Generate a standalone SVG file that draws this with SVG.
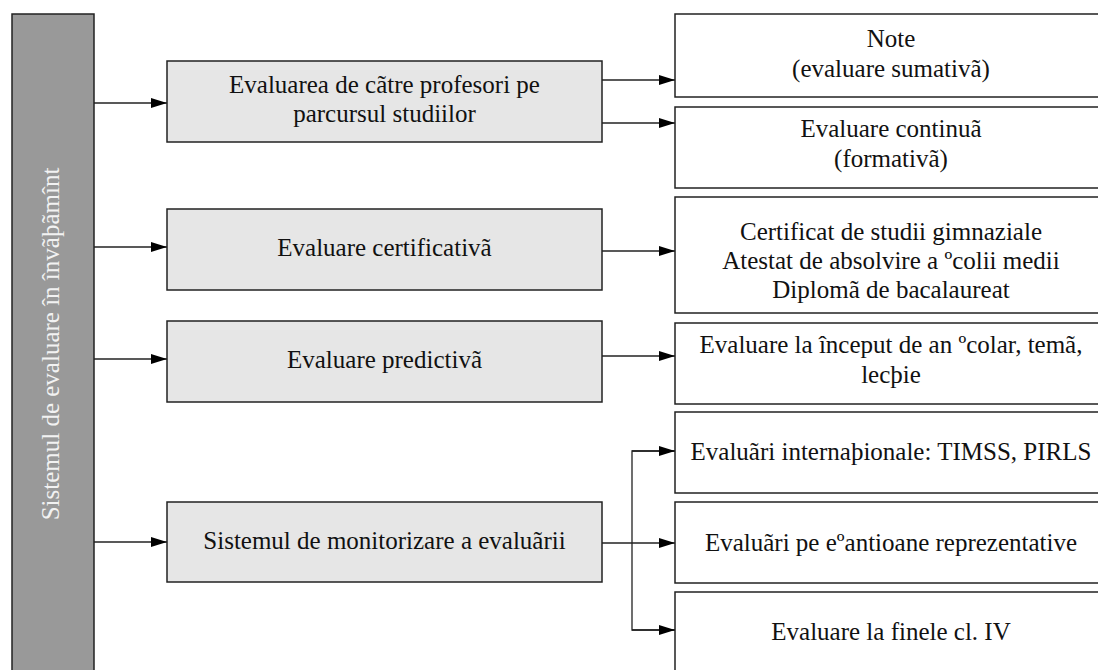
<svg xmlns="http://www.w3.org/2000/svg" width="1098" height="670" viewBox="0 0 1098 670">
<defs>
<style>
.t{font-family:"Liberation Serif","Times New Roman",serif;font-size:25px;fill:#111;text-anchor:middle}
.mid{fill:#e6e6e6;stroke:#222;stroke-width:1.5}
.out{fill:#fff;stroke:#222;stroke-width:1.5}
.c{fill:none;stroke:#222;stroke-width:1.3}
</style>
<marker id="ah" markerWidth="16" markerHeight="10" refX="16" refY="5" orient="auto" markerUnits="userSpaceOnUse">
<path d="M0,0 L16,5 L0,10 Z" fill="#000"/>
</marker>
</defs>
<rect width="1098" height="670" fill="#fff"/>

<g id="root">
<rect x="12" y="14" width="82" height="670" fill="#999" stroke="#222" stroke-width="1.5"/>
<text class="t" transform="translate(59,344) rotate(-90)" style="fill:#f2f2f2">Sistemul de evaluare în învãþãmînt</text>
</g>

<g id="connectors">
<line class="c" x1="94" y1="103" x2="167" y2="103" marker-end="url(#ah)"/>
<line class="c" x1="94" y1="247" x2="167" y2="247" marker-end="url(#ah)"/>
<line class="c" x1="94" y1="359" x2="167" y2="359" marker-end="url(#ah)"/>
<line class="c" x1="94" y1="542" x2="167" y2="542" marker-end="url(#ah)"/>
<line class="c" x1="602" y1="80" x2="675" y2="80" marker-end="url(#ah)"/>
<line class="c" x1="602" y1="123" x2="675" y2="123" marker-end="url(#ah)"/>
<line class="c" x1="602" y1="251" x2="675" y2="251" marker-end="url(#ah)"/>
<line class="c" x1="602" y1="356" x2="675" y2="356" marker-end="url(#ah)"/>
<line class="c" x1="602" y1="543" x2="675" y2="543" marker-end="url(#ah)"/>
<polyline class="c" points="675,451 632,451 632,630 675,630"/>
<line class="c" x1="632" y1="451" x2="675" y2="451" marker-end="url(#ah)"/>
<line class="c" x1="632" y1="630" x2="675" y2="630" marker-end="url(#ah)"/>
</g>

<g id="m1">
<rect class="mid" x="167" y="61" width="435" height="81"/>
<text class="t" x="384.5" y="93">Evaluarea de cãtre profesori pe</text>
<text class="t" x="384.5" y="122">parcursul studiilor</text>
</g>
<g id="m2">
<rect class="mid" x="167" y="209" width="435" height="81"/>
<text class="t" x="384.5" y="256">Evaluare certificativã</text>
</g>
<g id="m3">
<rect class="mid" x="167" y="321" width="435" height="81"/>
<text class="t" x="384.5" y="368">Evaluare predictivã</text>
</g>
<g id="m4">
<rect class="mid" x="167" y="502" width="435" height="80"/>
<text class="t" x="384.5" y="549">Sistemul de monitorizare a evaluãrii</text>
</g>

<g id="r1">
<rect class="out" x="675" y="14" width="440" height="83"/>
<text class="t" x="891" y="47">Note</text>
<text class="t" x="891" y="77">(evaluare sumativã)</text>
</g>
<g id="r2">
<rect class="out" x="675" y="107" width="440" height="81"/>
<text class="t" x="891" y="137">Evaluare continuã</text>
<text class="t" x="891" y="167">(formativã)</text>
</g>
<g id="r3">
<rect class="out" x="675" y="197" width="440" height="116"/>
<text class="t" x="891" y="240">Certificat de studii gimnaziale</text>
<text class="t" x="891" y="269">Atestat de absolvire a ºcolii medii</text>
<text class="t" x="891" y="298">Diplomã de bacalaureat</text>
</g>
<g id="r4">
<rect class="out" x="675" y="323" width="440" height="81"/>
<text class="t" x="891" y="353">Evaluare la început de an ºcolar, temã,</text>
<text class="t" x="891" y="383">lecþie</text>
</g>
<g id="r5">
<rect class="out" x="675" y="412" width="440" height="81"/>
<text class="t" x="891" y="460">Evaluãri internaþionale: TIMSS, PIRLS</text>
</g>
<g id="r6">
<rect class="out" x="675" y="502" width="440" height="81"/>
<text class="t" x="891" y="551">Evaluãri pe eºantioane reprezentative</text>
</g>
<g id="r7">
<rect class="out" x="675" y="592" width="440" height="100"/>
<text class="t" x="891" y="640">Evaluare la finele cl. IV</text>
</g>
</svg>
